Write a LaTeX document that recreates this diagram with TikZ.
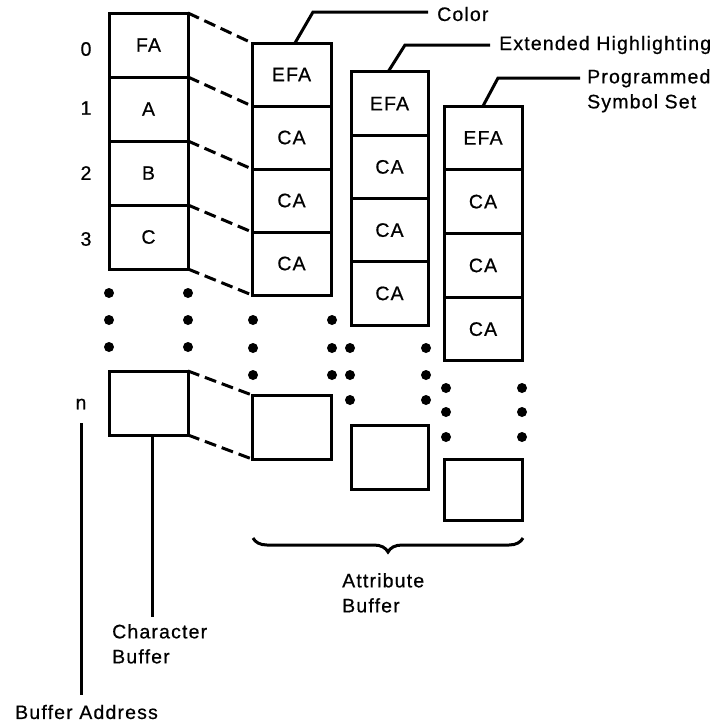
\documentclass[tikz,border=0pt]{standalone}
\usepackage{fontspec}
\setmainfont{Liberation Sans}[LetterSpace=6,FakeBold=0.6]
\usetikzlibrary{decorations.pathreplacing}
\begin{document}
\begin{tikzpicture}[x=1pt,y=-1pt,
  font=\fontsize{19.5}{23}\selectfont,
  cell/.style={draw, line width=3pt, outer sep=0pt, inner sep=0pt},
  ccell/.style={cell, minimum width=79pt, minimum height=64pt},
  acell/.style={cell, minimum width=79pt, minimum height=63pt},
  bcell/.style={cell, minimum width=77pt, minimum height=63.25pt},
  pcell/.style={cell, minimum width=78pt, minimum height=63.75pt},
  dashconn/.style={line width=3pt, dash pattern=on 12pt off 6pt},
  lead/.style={line width=3pt},
  lbl/.style={inner sep=0pt, anchor=west},
  mlbl/.style={inner sep=0pt, anchor=north west, align=left},
]
\useasboundingbox (0,0) rectangle (728,724);

% Character buffer
\node[ccell] (c0) at (148.5,45) {FA};
\node[ccell] (c1) at (148.5,109) {A};
\node[ccell] (c2) at (148.5,173) {B};
\node[ccell] (c3) at (148.5,237) {C};
\node[ccell] (cn) at (148.5,403) {};

% Color attribute buffer
\node[acell] (a0) at (291.5,74.5) {EFA};
\node[acell] (a1) at (291.5,137.5) {CA};
\node[acell] (a2) at (291.5,200.5) {CA};
\node[acell] (a3) at (291.5,263.5) {CA};
\node[acell, minimum height=64pt] (an) at (291.5,427) {};

% Extended highlighting buffer
\node[bcell] (b0) at (389.5,103.6) {EFA};
\node[bcell] (b1) at (389.5,166.9) {CA};
\node[bcell] (b2) at (389.5,230.1) {CA};
\node[bcell] (b3) at (389.5,293.4) {CA};
\node[bcell, minimum height=64pt] (bn) at (389.5,457) {};

% Programmed symbol set buffer
\node[pcell] (p0) at (483,137.9) {EFA};
\node[pcell] (p1) at (483,201.6) {CA};
\node[pcell] (p2) at (483,265.4) {CA};
\node[pcell] (p3) at (483,329.1) {CA};
\node[pcell, minimum height=61pt] (pn) at (483.5,489.5) {};

% dashed mapping lines
\draw[dashconn] (c0.north east) -- (a0.north west);
\draw[dashconn] (c0.south east) -- (a0.south west);
\draw[dashconn] (c1.south east) -- (a1.south west);
\draw[dashconn] (c2.south east) -- (a2.south west);
\draw[dashconn] (c3.south east) -- (a3.south west);
\draw[dashconn] (cn.north east) -- (an.north west);
\draw[dashconn] (cn.south east) -- (an.south west);

% ellipsis dots
\foreach \x in {109,188} \foreach \y in {293,320,347} \fill (\x,\y) circle (5pt);
\foreach \x in {253,332} \foreach \y in {320,348,375} \fill (\x,\y) circle (5pt);
\foreach \x in {350,426} \foreach \y in {348,375,400} \fill (\x,\y) circle (5pt);
\foreach \x in {446,522} \foreach \y in {388,412,437} \fill (\x,\y) circle (5pt);

% row labels
\node (r0) at (86,49) {0};
\node (r1) at (86,108) {1};
\node (r2) at (86,173) {2};
\node (r3) at (86,239) {3};
\node (rn) at (81,404) {n};

% top labels with leaders
\node[lbl] (color) at (437,14) {Color};
\coordinate (colorend) at (428,12);
\draw[lead] ([xshift=3.5pt]a0.north) -- (313,12) -- (colorend);

\node[lbl] (ext) at (499,45) {Extended Highlighting};
\coordinate (extend) at (490,45);
\draw[lead] ([xshift=-1.5pt]b0.north) -- (405,45) -- (extend);

\node[mlbl] (pss) at (587,69) {Programmed\\[2pt]Symbol Set};
\coordinate (pssend) at (580,78);
\draw[lead] (p0.north) -- (498,78) -- (pssend);

% brace
\draw[line width=3pt, decorate, decoration={brace, amplitude=14pt}]
  (523,538) -- (253,538);
\node[mlbl] (attr) at (342,573) {Attribute\\[2pt]Buffer};

% character buffer label
\coordinate (cbend) at (152,617);
\draw[lead] ([xshift=3.5pt]cn.south) -- (cbend);
\node[mlbl] (cbuf) at (112,624) {Character\\[2pt]Buffer};

% buffer address label
\coordinate (ba1) at (81,423);
\coordinate (ba2) at (81,695);
\draw[lead] (ba1) -- (ba2);
\node[lbl] (baddr) at (15,712) {Buffer Address};
\end{tikzpicture}
\end{document}
